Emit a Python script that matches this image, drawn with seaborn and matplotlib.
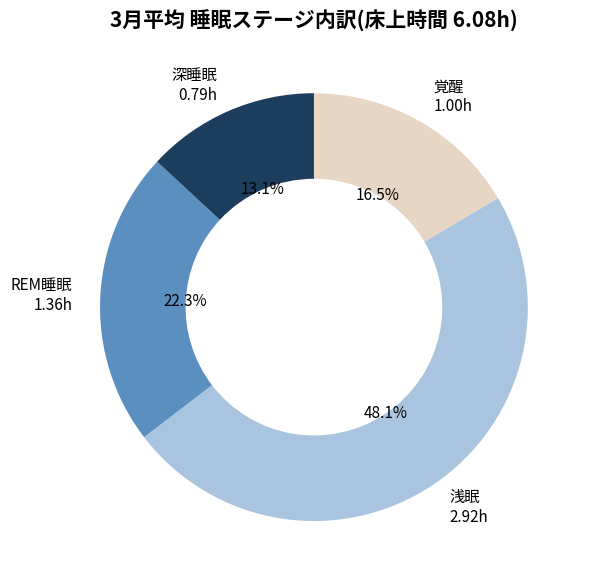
import matplotlib
matplotlib.use("Agg")
import matplotlib.pyplot as plt
import seaborn as sns

sns.set_theme(style="white")
plt.rcParams['font.family'] = ['Noto Sans CJK JP', 'DejaVu Sans']

stages = ["覚醒", "浅眠", "REM睡眠", "深睡眠"]
hours = [1.00, 2.92, 1.36, 0.79]
percents = [16.5, 48.1, 22.3, 13.1]
colors = ["#E8D6C4", "#A8C4DE", "#5B8FC0", "#1D3D5C"]

labels = [f"{s}\n{h:.2f}h" for s, h in zip(stages, hours)]

fig = plt.figure(figsize=(5.93, 5.87), dpi=100)
ax = fig.add_axes([0.0784, 0.0213, 0.902, 0.911])
ax.pie(percents, labels=labels, colors=colors, startangle=90, counterclock=False,
       autopct="%1.1f%%", pctdistance=0.6, labeldistance=1.13,
       wedgeprops=dict(width=0.4, linewidth=0), textprops=dict(fontsize=11, color="black"))
ax.set_xlim(-1.25, 1.25)
ax.set_ylim(-1.25, 1.25)
fig.text(0.53, 0.965, "3月平均 睡眠ステージ内訳(床上時間 6.08h)", fontsize=15,
         fontweight="bold", color="black", ha="center", va="center")
fig.savefig("out.png", dpi=100)
